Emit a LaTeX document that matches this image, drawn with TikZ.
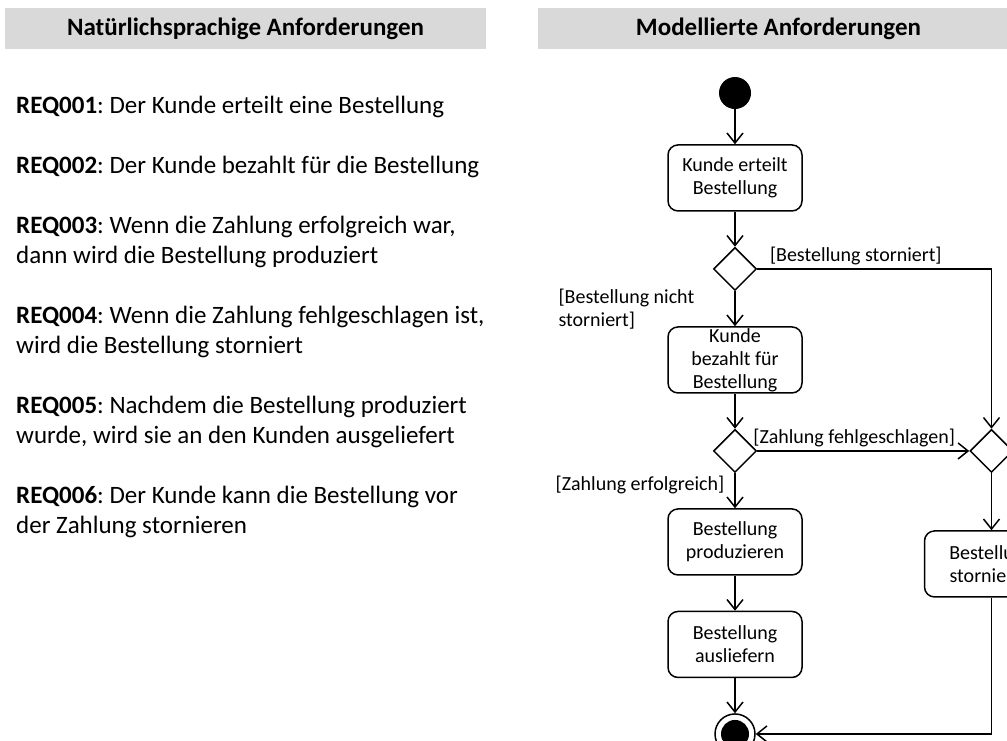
\documentclass[tikz,border=0pt]{standalone}
\usepackage{fontspec}
\setmainfont{Carlito}
\usepackage{tikz}
\usetikzlibrary{arrows.meta,shapes.geometric,positioning}
\definecolor{headgray}{RGB}{217,217,217}
\frenchspacing

\begin{document}
\begin{tikzpicture}[x=1pt, y=-1pt, node distance=35pt,
  >={Straight Barb[length=10pt,width=16pt]},
  flow/.style={->, line width=1.5pt},
  action/.style={draw, line width=1.5pt, rounded corners=10pt, minimum width=134pt, minimum height=66pt, inner sep=0pt, align=center, font=\fontsize{20}{23}\selectfont},
  decision/.style={draw, diamond, line width=1.5pt, minimum width=43pt, minimum height=43pt, inner sep=0pt},
  guard/.style={font=\fontsize{20}{23}\selectfont, inner sep=3pt},
  header/.style={fill=headgray, minimum width=481pt, minimum height=41pt, inner sep=0pt, font=\fontsize{25}{30}\selectfont\bfseries},
  req/.style={anchor=base west, align=left, inner sep=0pt, font=\fontsize{25}{30}\selectfont}]
\clip (0,0) rectangle (1007,740);

% headers
\node (hreq) [header] at (245.5,28.5) {Natürlichsprachige Anforderungen};
\node (hmod) [header] at (778.5,28.5) {Modellierte Anforderungen};

% requirements (base = last line)
\node (req1) [req] at (16,113) {\textbf{REQ001}: Der Kunde erteilt eine Bestellung};
\node (req2) [req] at (16,173) {\textbf{REQ002}: Der Kunde bezahlt für die Bestellung};
\node (req3) [req] at (16,263) {\textbf{REQ003}: Wenn die Zahlung erfolgreich war,\\dann wird die Bestellung produziert};
\node (req4) [req] at (16,353) {\textbf{REQ004}: Wenn die Zahlung fehlgeschlagen ist,\\wird die Bestellung storniert};
\node (req5) [req] at (16,443) {\textbf{REQ005}: Nachdem die Bestellung produziert\\wurde, wird sie an den Kunden ausgeliefert};
\node (req6) [req] at (16,533) {\textbf{REQ006}: Der Kunde kann die Bestellung vor\\der Zahlung stornieren};

% activity diagram
\node (start) [circle, fill, minimum size=32pt, inner sep=0pt] at (735,93) {};
\node (order) [action, below=of start] {Kunde erteilt\\Bestellung};
\node (d1) [decision, below=of order] {};
\node (pay) [action, below=of d1] {Kunde\\bezahlt für\\Bestellung};
\node (d2) [decision, below=of pay] {};
\node (d3) [decision, right=212pt of d2] {};
\node (produce) [action, below=of d2] {Bestellung\\produzieren};
\node (deliver) [action, below=of produce] {Bestellung\\ausliefern};
\node (cancel) [action, below=57pt of d3] {Bestellung\\stornieren};
\node (fin) [circle, draw, line width=1.5pt, minimum size=40pt, inner sep=0pt, below=of deliver] {};
\node (findot) [circle, fill, minimum size=28pt, inner sep=0pt] at (fin) {};

\draw[flow] (start) -- (order);
\draw[flow] (order) -- (d1);
\draw[flow] (d1) -- node[guard, left, align=left, xshift=-37pt] {[Bestellung nicht\\storniert]} (pay);
\draw[flow] (d1) -| node[guard, pos=0, anchor=south west, xshift=9pt] {[Bestellung storniert]} (d3);
\draw[flow] (pay) -- (d2);
\draw[flow] (d2) -- node[guard, above, xshift=-9pt] {[Zahlung fehlgeschlagen]} (d3);
\draw[flow] (d2) -- node[guard, left, xshift=-7pt, yshift=6pt] {[Zahlung erfolgreich]} (produce);
\draw[flow] (produce) -- (deliver);
\draw[flow] (deliver) -- (fin);
\draw[flow] (d3) -- (cancel);
\draw[flow] (cancel) |- (fin);
\end{tikzpicture}
\end{document}
